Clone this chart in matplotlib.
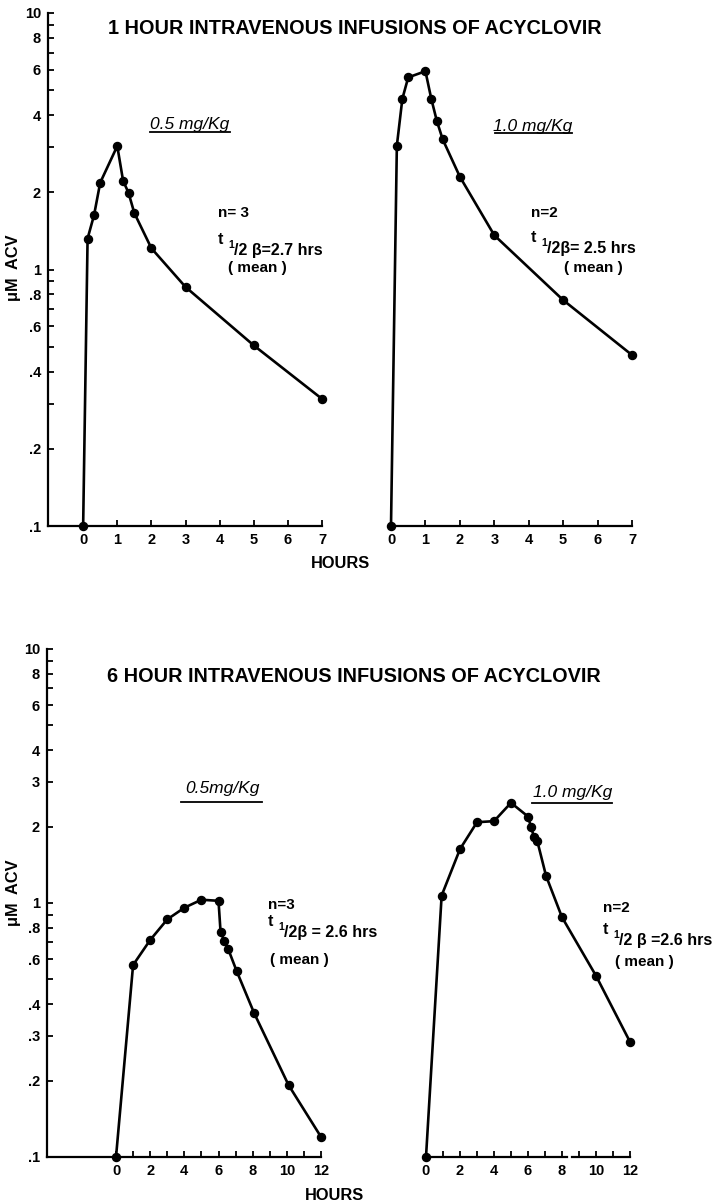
import matplotlib
matplotlib.use('Agg')
import matplotlib.pyplot as plt
from matplotlib.ticker import FixedLocator, FixedFormatter, NullFormatter
from matplotlib.lines import Line2D

FONT = ['Liberation Sans', 'DejaVu Sans']
plt.rcParams['font.family'] = FONT

# ---------------- data ----------------
# 1-hour infusions
h1_low_t = [0, 0.13, 0.32, 0.5, 1.0, 1.17, 1.33, 1.5, 2, 3, 5, 7]
h1_low_c = [0.1, 1.32, 1.63, 2.18, 3.03, 2.22, 1.99, 1.66, 1.21, 0.855, 0.506, 0.313]
h1_high_t = [0, 0.17, 0.33, 0.5, 1.0, 1.17, 1.33, 1.5, 2, 3, 5, 7]
h1_high_c = [0.1, 3.04, 4.63, 5.61, 5.93, 4.63, 3.80, 3.22, 2.30, 1.36, 0.76, 0.464]
# 6-hour infusions
h6_low_t = [0, 1, 2, 3, 4, 5, 6, 6.12, 6.33, 6.57, 7.06, 8.09, 10.1, 12]
h6_low_c = [0.1, 0.57, 0.715, 0.862, 0.958, 1.03, 1.02, 0.77, 0.711, 0.658, 0.54, 0.368, 0.192, 0.12]
h6_high_t = [0, 0.92, 2, 3, 4, 5, 6, 6.18, 6.35, 6.55, 7.06, 8, 10, 12]
h6_high_c = [0.1, 1.07, 1.63, 2.08, 2.10, 2.48, 2.19, 1.99, 1.82, 1.75, 1.28, 0.879, 0.517, 0.284]

top_ytick_vals = [10, 8, 6, 4, 2, 1, 0.8, 0.6, 0.4, 0.2, 0.1]
top_ytick_txt = ['10', '8', '6', '4', '2', '1', '.8', '.6', '.4', '.2', '.1']
bot_ytick_vals = [10, 8, 6, 4, 3, 2, 1, 0.8, 0.6, 0.4, 0.3, 0.2, 0.1]
bot_ytick_txt = ['10', '8', '6', '4', '3', '2', '1', '.8', '.6', '.4', '.3', '.2', '.1']

top_xticks = [0, 1, 2, 3, 4, 5, 6, 7]
bot_xticks = [0, 2, 4, 6, 8, 10, 12]
bot_xminor = [1, 3, 5, 7, 9, 11]

titles = ['1 HOUR INTRAVENOUS INFUSIONS OF ACYCLOVIR',
          '6 HOUR INTRAVENOUS INFUSIONS OF ACYCLOVIR']
doses = ['0.5 mg/Kg', '1.0 mg/Kg', '0.5mg/Kg', '1.0 mg/Kg']
n_labels = ['n= 3', 'n=2', 'n=3', 'n=2']
half_lives = ['/2 \u03b2=2.7 hrs', '/2\u03b2= 2.5 hrs', '/2\u03b2 = 2.6 hrs', '/2 \u03b2 =2.6 hrs']

W, H = 722, 1203
fig = plt.figure(figsize=(W / 100, H / 100), dpi=100)

LW = 1.9
SPW = 1.6
MS = 5.8


def rect(x0, x1, y0, y1):
    return [x0 / W, 1 - y1 / H, (x1 - x0) / W, (y1 - y0) / H]


def ftext(px, py, s, **kw):
    kw.setdefault('fontsize', 10)
    kw.setdefault('va', 'center')
    kw.setdefault('ha', 'left')
    return fig.text(px / W, 1 - py / H, s, **kw)


def hline(x0, x1, py, lw=1.3):
    fig.add_artist(Line2D([x0 / W, x1 / W], [1 - py / H, 1 - py / H],
                          color='black', lw=lw, transform=fig.transFigure))


def style_common(ax, yvals):
    ax.set_yscale('log')
    ax.set_ylim(0.1, 10)
    minor = [v / 10 for v in range(2, 10)] + list(range(2, 10))
    minor = [m for m in minor if all(abs(m - v) > 1e-9 for v in yvals)]
    ax.yaxis.set_major_locator(FixedLocator(yvals))
    ax.yaxis.set_minor_locator(FixedLocator(minor))
    ax.yaxis.set_minor_formatter(NullFormatter())
    for s in ['top', 'right']:
        ax.spines[s].set_visible(False)
    for s in ['left', 'bottom']:
        ax.spines[s].set_linewidth(SPW)
    ax.tick_params(which='both', direction='in', width=1.3, length=4.5,
                   labelsize=10.5, pad=5)
    ax.patch.set_alpha(0)


def left_axes(r, xlo, xhi, yvals, ytxt, xmaj, xmin=None):
    ax = fig.add_axes(r)
    style_common(ax, yvals)
    ax.yaxis.set_major_formatter(FixedFormatter(ytxt))
    ax.set_xlim(xlo, xhi)
    ax.xaxis.set_major_locator(FixedLocator(xmaj))
    ax.xaxis.set_minor_locator(FixedLocator(xmin or []))
    for lab in ax.get_yticklabels() + ax.get_xticklabels():
        lab.set_fontweight('bold')
    return ax


def right_axes(r, xhi, yvals, xmaj, xmin=None):
    ax = fig.add_axes(r)
    style_common(ax, yvals)
    ax.spines['left'].set_visible(False)
    ax.tick_params(axis='y', which='both', left=False, labelleft=False)
    ax.set_xlim(0, xhi)
    ax.xaxis.set_major_locator(FixedLocator(xmaj))
    ax.xaxis.set_minor_locator(FixedLocator(xmin or []))
    for lab in ax.get_xticklabels():
        lab.set_fontweight('bold')
    return ax


def curve(ax, t, c):
    ax.plot(t, c, color='black', lw=LW, marker='o', ms=MS, clip_on=False,
            zorder=5, solid_joinstyle='round')


# ---------------- top panel ----------------
axA = left_axes(rect(48, 322, 13, 526), -1.03, 7, top_ytick_vals, top_ytick_txt, top_xticks)
curve(axA, h1_low_t, h1_low_c)
axB = right_axes(rect(391, 632, 13, 526), 7, top_ytick_vals, top_xticks)
curve(axB, h1_high_t, h1_high_c)

# ---------------- bottom panel ----------------
axC = left_axes(rect(47, 321, 649, 1157), -4.04, 12, bot_ytick_vals, bot_ytick_txt,
                bot_xticks, bot_xminor)
curve(axC, h6_low_t, h6_low_c)
axD = right_axes(rect(426, 630, 649, 1157), 12, bot_ytick_vals, bot_xticks, bot_xminor)
axD.spines['bottom'].set_visible(False)
tr = axD.get_xaxis_transform()
axD.plot([0, 8.28], [0, 0], color='black', lw=SPW, transform=tr, clip_on=False, zorder=3)
axD.plot([8.57, 12], [0, 0], color='black', lw=SPW, transform=tr, clip_on=False, zorder=3)
curve(axD, h6_high_t, h6_high_c)

# ---------------- texts ----------------
ftext(108, 28, titles[0], fontsize=14.3, fontweight='bold')
ftext(107, 677, titles[1], fontsize=14.3, fontweight='bold')

ftext(341, 563, 'HOURS', fontsize=11.8, fontweight='bold', ha='center')
ftext(334, 1195, 'HOURS', fontsize=11.8, fontweight='bold', ha='center')

ftext(14, 268, '\u03bcM  ACV', fontsize=11.8, fontweight='bold', ha='center', rotation=90)
ftext(14, 893, '\u03bcM  ACV', fontsize=11.8, fontweight='bold', ha='center', rotation=90)

# dose labels (italic, underlined)
ftext(190, 124, doses[0], fontsize=12.5, style='italic', ha='center')
hline(150, 230, 132)
ftext(533, 126, doses[1], fontsize=12.5, style='italic', ha='center')
hline(495, 572, 133)
ftext(222, 789, doses[2], fontsize=12.5, style='italic', ha='center')
hline(181, 262, 802)
ftext(573, 792, doses[3], fontsize=12.5, style='italic', ha='center')
hline(532, 612, 803)


def stats(x, y_n, y_t, xm, y_m, n_txt, t_txt):
    ftext(x, y_n, n_txt, fontsize=11, fontweight='bold')
    ftext(x, y_t - 11, 't', fontsize=11.5, fontweight='bold')
    ftext(x + 10, y_t - 5, '1', fontsize=7.5, fontweight='bold')
    ftext(x + 16, y_t, t_txt, fontsize=11.5, fontweight='bold')
    ftext(xm, y_m, '( mean )', fontsize=11, fontweight='bold')


stats(218, 213, 250, 228, 268, n_labels[0], half_lives[0])
stats(531, 213, 248, 564, 268, n_labels[1], half_lives[1])
stats(268, 905, 932, 270, 960, n_labels[2], half_lives[2])
stats(603, 908, 940, 615, 962, n_labels[3], half_lives[3])

fig.savefig('out.png', dpi=100)
